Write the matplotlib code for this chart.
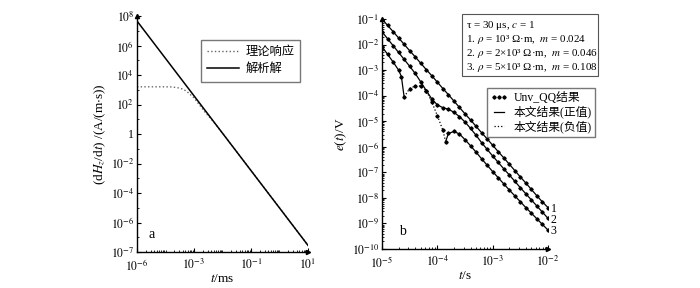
import numpy as np
import matplotlib
matplotlib.use("Agg")
import matplotlib.pyplot as plt
from matplotlib.ticker import FixedLocator, LogLocator, NullFormatter
from matplotlib.lines import Line2D
from matplotlib.patches import Rectangle

plt.rcParams.update({
    "font.family": ["Liberation Serif", "Noto Sans CJK SC"],
    "mathtext.fontset": "stix",
    "font.size": 8.5,
    "axes.unicode_minus": False,
})

# ── panel a: log10 values ───────────────────────────────────────
a_t_line = [-5.0, 1.0]                      # log10(t/ms)
a_v_line = [7.66, -7.55]                    # 解析解
a_t_theory = [-5.0, -4.5, -4.0, -3.8, -3.6, -3.4, -3.26, -3.0, -2.8, -2.6,
              -2.4, -2.2, -2.0, -1.0, 0.0, 1.0]
a_v_theory = [3.2, 3.2, 3.2, 3.19, 3.15, 3.05, 2.9, 2.45, 1.95, 1.45,
              1.02, 0.55, 0.06, -2.47, -5.0, -7.55]   # 理论响应
a_xticks = [1e-5, 1e-3, 1e-1, 1e1]
a_xlabels = [r"$10^{-6}$", r"$10^{-3}$", r"$10^{-1}$", r"$10^{1}$"]
a_yticks = [1e8, 1e6, 1e4, 1e2, 1, 1e-2, 1e-4, 1e-6, 1e-8]
a_ylabels = [r"$10^{8}$", r"$10^{6}$", r"$10^{4}$", r"$10^{2}$", "1",
             r"$10^{-2}$", r"$10^{-4}$", r"$10^{-6}$", r"$10^{-7}$"]

# ── panel b: log10(t/s) and log10(e/V) ───────────────────────────
b_t = [-5.0, -4.9, -4.8, -4.7, -4.6, -4.5, -4.4, -4.3, -4.2, -4.1, -4.0,
       -3.9, -3.8, -3.7, -3.6, -3.5, -3.4, -3.3, -3.2, -3.1, -3.0,
       -2.9, -2.8, -2.7, -2.6, -2.5, -2.4, -2.3, -2.2, -2.1, -2.0]
b_e1 = [-1.00, -1.25, -1.49, -1.74, -1.99, -2.24, -2.48, -2.73, -2.98, -3.22,
        -3.47, -3.72, -3.96, -4.21, -4.46, -4.71, -4.95, -5.20, -5.45, -5.69,
        -5.94, -6.19, -6.43, -6.68, -6.93, -7.18, -7.42, -7.67, -7.92, -8.16,
        -8.38]
b_e2 = [-1.50, -1.77, -2.04, -2.31, -2.58, -2.85, -3.13, -3.46, -3.80, -4.13,
        -4.36, -4.47, -4.53, -4.65, -4.82, -5.03, -5.28, -5.55, -5.84, -6.10,
        -6.36, -6.61, -6.86, -7.10, -7.35, -7.60, -7.84, -8.08, -8.32, -8.56,
        -8.80]
b_t3 = [-5.0, -4.9, -4.8, -4.7, -4.65, -4.6, -4.5, -4.4, -4.3, -4.2, -4.1,
        -4.0, -3.9, -3.85, -3.8, -3.7, -3.6, -3.5, -3.4, -3.3, -3.2, -3.1,
        -3.0, -2.9, -2.8, -2.7, -2.6, -2.5, -2.4, -2.3, -2.2, -2.1, -2.0]
b_e3 = [-2.08, -2.38, -2.68, -3.00, -3.25, -4.05, -3.72, -3.62, -3.62, -3.80,
        -4.25, -4.78, -5.35, -5.80, -5.48, -5.40, -5.50, -5.72, -5.96, -6.21,
        -6.47, -6.72, -6.97, -7.21, -7.45, -7.69, -7.92, -8.15, -8.38, -8.60,
        -8.82, -9.04, -9.26]
b_neg3 = (5, 13)   # curve 3 is negative between these two sign changes
b_xticks = [1e-5, 1e-4, 1e-3, 1e-2]
b_xlabels = [r"$10^{-5}$", r"$10^{-4}$", r"$10^{-3}$", r"$10^{-2}$"]
b_yticks = [10.0 ** k for k in range(-10, 0)]
b_ylabels = [r"$10^{%d}$" % k for k in range(-10, 0)]
b_curve_names = ["1", "2", "3"]
info_lines = ["τ = 30 μs, $c$ = 1",
              "1. $ρ$ = 10³ Ω·m,  $m$ = 0.024",
              "2. $ρ$ = 2×10³ Ω·m,  $m$ = 0.046",
              "3. $ρ$ = 5×10³ Ω·m,  $m$ = 0.108"]

fig = plt.figure(figsize=(7, 2.88), dpi=100)
ax1 = fig.add_axes([137 / 700, 1 - 252 / 288, 171 / 700, 236 / 288])
ax2 = fig.add_axes([382 / 700, 1 - 249 / 288, 166 / 700, 230 / 288])


def style_axis(ax):
    ax.set_xscale("log")
    ax.set_yscale("log")
    for s in ("top", "right"):
        ax.spines[s].set_visible(False)
    for s in ("left", "bottom"):
        ax.spines[s].set_linewidth(1.0)
    ax.tick_params(which="both", direction="in", top=False, right=False,
                   labelsize=8.5)
    ax.tick_params(axis="x", which="both", pad=4)
    ax.tick_params(axis="y", which="both", pad=2)
    ax.tick_params(which="major", length=3)
    ax.tick_params(which="minor", length=1.5)
    # little arrow heads at the axis ends
    ax.plot([0], [1], marker="^", ms=3, color="k", transform=ax.transAxes, clip_on=False)
    ax.plot([1], [0], marker=">", ms=3, color="k", transform=ax.transAxes, clip_on=False)


# ── 5a ───────────────────────────────────────────────────────────
style_axis(ax1)
ax1.plot(10.0 ** np.array(a_t_theory), 10.0 ** np.array(a_v_theory),
         ls=":", color="#666666", lw=1.0)
ax1.plot(10.0 ** np.array(a_t_line), 10.0 ** np.array(a_v_line),
         ls="-", color="k", lw=1.1)
ax1.set_xlim(1e-5, 1e1)
ax1.set_ylim(1e-8, 1e8)
ax1.xaxis.set_major_locator(FixedLocator(a_xticks))
ax1.set_xticklabels(a_xlabels)
ax1.yaxis.set_major_locator(FixedLocator(a_yticks))
ax1.set_yticklabels(a_ylabels)
ax1.xaxis.set_minor_locator(LogLocator(base=10, subs=np.arange(1, 10), numticks=100))
ax1.yaxis.set_minor_locator(LogLocator(base=10, subs=(1.0,), numticks=100))
ax1.xaxis.set_minor_formatter(NullFormatter())
ax1.yaxis.set_minor_formatter(NullFormatter())
ax1.set_xlabel(r"$t$/ms", labelpad=0, fontsize=9.5)
ax1.set_ylabel(r"(d$H_z$/d$t$) /(A/(m$\cdot$s))", labelpad=2, fontsize=9.5)
ax1.text(0.07, 0.06, "a", transform=ax1.transAxes, fontsize=10)
ha = [Line2D([], [], ls=":", color="#666666", lw=1.0),
      Line2D([], [], ls="-", color="k", lw=1.1)]
ax1.legend(ha, ["理论响应", "解析解"], loc="upper left", bbox_to_anchor=(0.34, 0.925),
           frameon=True, fancybox=False, edgecolor="#555555", fontsize=8.8,
           handlelength=2.6, borderpad=0.5, labelspacing=0.45, handletextpad=0.5)

# ── 5b ───────────────────────────────────────────────────────────
style_axis(ax2)
lk = dict(color="k", lw=0.9)
mk = dict(ls="none", marker="D", ms=1.7, color="k")
t = 10.0 ** np.array(b_t)
for vals in (b_e1, b_e2):
    ax2.plot(t, 10.0 ** np.array(vals), ls="-", **lk)
    ax2.plot(t, 10.0 ** np.array(vals), **mk)
t3 = 10.0 ** np.array(b_t3)
e3 = 10.0 ** np.array(b_e3)
i0, i1 = b_neg3
ax2.plot(t3[:i0 + 1], e3[:i0 + 1], ls="-", **lk)
ax2.plot(t3[i0:i1 + 1], e3[i0:i1 + 1], ls=":", **lk)
ax2.plot(t3[i1:], e3[i1:], ls="-", **lk)
ax2.plot(t3, e3, **mk)

for name, vals in zip(b_curve_names, (b_e1, b_e2, b_e3)):
    ax2.text(1.13e-2, 10.0 ** (vals[-1] - 0.05), name, fontsize=8.5,
             va="center", ha="left", clip_on=False)

ax2.set_xlim(1e-5, 1e-2)
ax2.set_ylim(1e-10, 1e-1)
ax2.xaxis.set_major_locator(FixedLocator(b_xticks))
ax2.set_xticklabels(b_xlabels)
ax2.yaxis.set_major_locator(FixedLocator(b_yticks))
ax2.set_yticklabels(b_ylabels)
ax2.xaxis.set_minor_locator(LogLocator(base=10, subs=np.arange(2, 10), numticks=100))
ax2.yaxis.set_minor_locator(LogLocator(base=10, subs=np.arange(2, 10), numticks=100))
ax2.xaxis.set_minor_formatter(NullFormatter())
ax2.yaxis.set_minor_formatter(NullFormatter())
ax2.set_xlabel(r"$t$/s", labelpad=0, fontsize=9.5)
ax2.set_ylabel(r"$e$($t$)/V", labelpad=2, fontsize=9.5)
ax2.text(0.1, 0.06, "b", transform=ax2.transAxes, fontsize=10)

hb = [Line2D([], [], ls="none", marker="D", ms=1.7, color="k"),
      Line2D([], [], ls="-", color="k", lw=0.9),
      Line2D([], [], ls=":", color="k", lw=0.9)]
ax2.legend(hb, ["Unv_QQ结果", "本文结果(正值)", "本文结果(负值)"], numpoints=3,
           loc="upper left", bbox_to_anchor=(0.595, 0.725), frameon=True,
           fancybox=False, edgecolor="#555555", fontsize=8.5, handlelength=1.4,
           borderpad=0.35, labelspacing=0.15, handletextpad=0.5)

# parameter box (drawn line by line to keep the spacing tight)
fig.add_artist(Rectangle((462 / 700, 1 - 76 / 288), 136 / 700, 62 / 288,
                         transform=fig.transFigure, fc="white", ec="#555555", lw=0.8))
for k, line in enumerate(info_lines):
    fig.text(466 / 700, 1 - (26 + 14 * k) / 288, line, fontsize=7.9,
             va="center", ha="left")

fig.savefig("out.png", dpi=100)
